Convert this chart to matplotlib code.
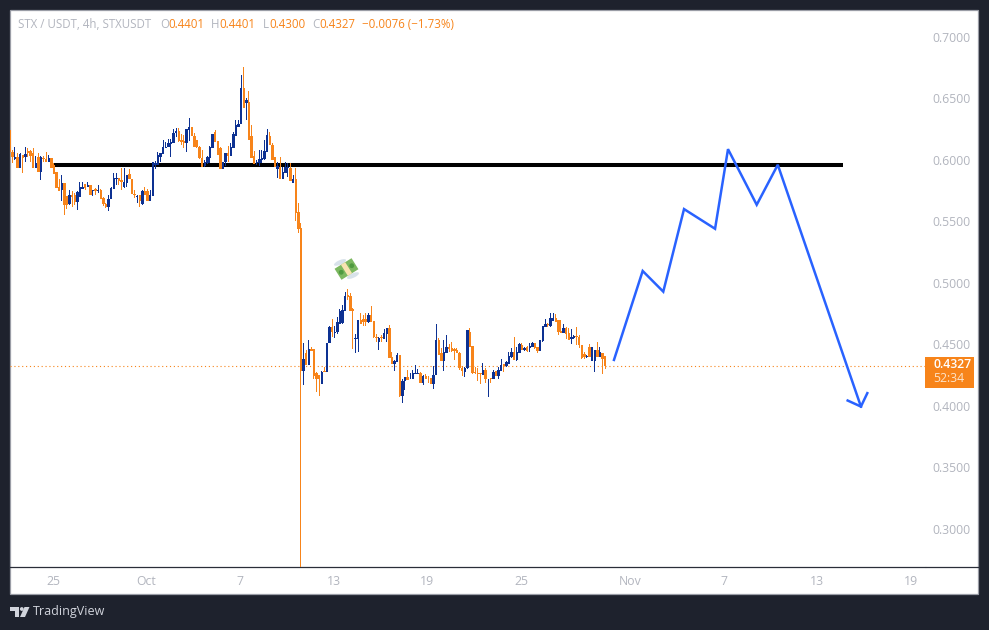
import numpy as np
import pandas as pd

import matplotlib as mpl
mpl.use('Agg')
import matplotlib.dates as mdates
import matplotlib.pyplot as plt
from matplotlib.patches import Circle, Ellipse, Polygon, Rectangle
from matplotlib.transforms import Affine2D

W, H, DPI = 989, 630, 100
plt.rcParams['font.family'] = ['Open Sans', 'DejaVu Sans']

BG = '#1e222d'
UP = '#0d3192'
DOWN = '#f7841a'
LABEL = '#b2b5be'
PATH_BLUE = '#2962ff'

opens = [
    .6241, .6065, .6005, .6024, .5935, .6038, .6024, .6073, .6073, .6051,
    .5935, .6024, .5902, .6016, .6005, .5984, .6011, .5956, .5902, .5775,
    .5753, .5815, .5707, .5639, .5713, .5713, .5658, .5699, .5759, .5799,
    .5775, .5794, .5748, .5759, .5748, .5753, .5685, .5639, .5618, .5677,
    .5761, .5843, .5854, .5835, .5775, .5807, .5881, .5840, .5721, .5699,
    .5713, .5639, .5745, .5745, .5666, .5707, .5956, .5956, .6025, .6044,
    .6093, .6101, .6128, .6139, .6220, .6234, .6161, .6155, .6133, .6242,
    .6269, .6193, .6161, .6101, .6012, .5949, .5971, .6017, .6098, .6228,
    .6153, .6093, .5925, .5979, .6052, .6031, .6098, .6193, .6269, .6288,
    .6581, .6459, .6472, .6193, .6031, .5971, .5971, .5998, .6003, .6066,
    .6193, .6120, .6020, .5925, .5944, .5844, .5890, .5930, .5936, .5814,
    .5844, .5575, .5442, .4282, .4426, .4331, .4461, .4458, .4263, .4250,
    .4176, .4282, .4271, .4507, .4637, .4594, .4602, .4669, .4675, .4772,
    .4900, .4892, .4783, .4542, .4542, .4697, .4702, .4702, .4683, .4737,
    .4688, .4561, .4520, .4556, .4542, .4583, .4629, .4393, .4339, .4358,
    .4412, .4079, .4198, .4236, .4214, .4222, .4258, .4258, .4263, .4182,
    .4241, .4222, .4228, .4174, .4250, .4534, .4426, .4366, .4426, .4480,
    .4466, .4458, .4453, .4426, .4304, .4277, .4304, .4602, .4485, .4274,
    .4268, .4268, .4250, .4290, .4214, .4228, .4222, .4282, .4241, .4282,
    .4339, .4323, .4339, .4393, .4439, .4371, .4431, .4493, .4453, .4474,
    .4466, .4480, .4507, .4474, .4447, .4529, .4637, .4664, .4648, .4688,
    .4710, .4697, .4610, .4594, .4629, .4588, .4539, .4553, .4561, .4556,
    .4493, .4420, .4398, .4474, .4366, .4366, .4453, .4398, .4426, .4401,
]
highs = [
    .6281, .6078, .6100, .6051, .6057, .6038, .6100, .6092, .6078, .6092,
    .6030, .6051, .6030, .6030, .6065, .6038, .6011, .5970, .5902, .5840,
    .5875, .5815, .5707, .5753, .5745, .5726, .5745, .5821, .5821, .5799,
    .5821, .5794, .5753, .5767, .5794, .5759, .5699, .5645, .5713, .5775,
    .5894, .5889, .5854, .5929, .5929, .5875, .5924, .5840, .5753, .5713,
    .5713, .5753, .5775, .5759, .5753, .5984, .5989, .6065, .6058, .6161,
    .6147, .6166, .6166, .6247, .6255, .6261, .6209, .6201, .6247, .6337,
    .6269, .6220, .6161, .6112, .6079, .5998, .6030, .6112, .6209, .6242,
    .6153, .6101, .5979, .6058, .6112, .6133, .6223, .6323, .6323, .6689,
    .6751, .6499, .6559, .6283, .6074, .5998, .6079, .6079, .6161, .6250,
    .6228, .6133, .6020, .5984, .6020, .5938, .5984, .5971, .5971, .5876,
    .5930, .5646, .5483, .4507, .4450, .4534, .4480, .4458, .4277, .4250,
    .4285, .4317, .4507, .4651, .4705, .4648, .4724, .4786, .4819, .4927,
    .4946, .4919, .4791, .4583, .4697, .4751, .4737, .4751, .4756, .4810,
    .4688, .4580, .4561, .4575, .4621, .4629, .4656, .4434, .4371, .4426,
    .4412, .4222, .4236, .4290, .4263, .4290, .4331, .4296, .4277, .4250,
    .4258, .4241, .4228, .4323, .4669, .4548, .4466, .4534, .4575, .4502,
    .4520, .4466, .4466, .4439, .4323, .4317, .4615, .4629, .4485, .4317,
    .4309, .4268, .4350, .4304, .4222, .4228, .4290, .4282, .4317, .4377,
    .4339, .4366, .4439, .4466, .4556, .4480, .4512, .4507, .4474, .4485,
    .4507, .4520, .4507, .4474, .4534, .4648, .4702, .4675, .4751, .4751,
    .4745, .4697, .4697, .4669, .4637, .4629, .4621, .4575, .4637, .4575,
    .4493, .4439, .4412, .4502, .4480, .4453, .4520, .4474, .4426, .4401,
]
lows = [
    .5902, .5970, .5997, .5935, .5929, .5889, .5984, .6024, .5984, .5935,
    .5935, .5902, .5835, .5984, .5984, .5984, .5929, .5883, .5767, .5748,
    .5666, .5550, .5599, .5631, .5618, .5631, .5591, .5699, .5759, .5753,
    .5775, .5713, .5704, .5713, .5726, .5677, .5623, .5604, .5583, .5677,
    .5761, .5794, .5794, .5753, .5767, .5775, .5840, .5718, .5691, .5650,
    .5618, .5631, .5713, .5666, .5666, .5707, .5921, .5956, .5984, .6044,
    .6093, .6101, .6025, .6139, .6188, .6147, .6120, .6098, .6066, .6153,
    .6196, .6101, .6093, .6006, .5944, .5944, .5965, .5971, .6098, .6147,
    .6039, .5925, .5925, .5949, .5984, .6031, .6098, .6193, .6269, .6288,
    .6423, .6323, .6161, .6017, .5965, .5957, .5949, .5971, .5998, .6066,
    .6120, .5998, .5938, .5849, .5841, .5844, .5890, .5863, .5827, .5814,
    .5502, .5402, .2500, .4168, .4331, .4331, .4445, .4222, .4114, .4081,
    .4176, .4271, .4271, .4507, .4561, .4548, .4583, .4669, .4669, .4772,
    .4859, .4772, .4461, .4426, .4439, .4664, .4648, .4648, .4675, .4683,
    .4548, .4515, .4453, .4520, .4542, .4520, .4385, .4339, .4285, .4358,
    .4068, .4019, .4128, .4209, .4214, .4222, .4258, .4258, .4182, .4168,
    .4214, .4182, .4174, .4133, .4250, .4412, .4366, .4285, .4426, .4439,
    .4439, .4371, .4426, .4290, .4241, .4236, .4296, .4474, .4258, .4258,
    .4201, .4174, .4250, .4182, .4073, .4187, .4214, .4241, .4222, .4282,
    .4277, .4317, .4339, .4385, .4371, .4366, .4431, .4453, .4447, .4439,
    .4439, .4480, .4458, .4431, .4447, .4520, .4637, .4637, .4637, .4688,
    .4678, .4575, .4594, .4594, .4539, .4534, .4499, .4539, .4493, .4466,
    .4377, .4377, .4390, .4393, .4366, .4277, .4393, .4393, .4258, .4300,
]
closes = [
    .6065, .6024, .6024, .5935, .6046, .6011, .6046, .6051, .6030, .5935,
    .5975, .5902, .6024, .6005, .5984, .6016, .5935, .5883, .5767, .5748,
    .5815, .5631, .5631, .5713, .5699, .5658, .5740, .5775, .5775, .5767,
    .5794, .5713, .5753, .5748, .5753, .5677, .5639, .5618, .5677, .5767,
    .5848, .5848, .5829, .5821, .5821, .5875, .5840, .5718, .5713, .5707,
    .5666, .5745, .5713, .5666, .5713, .5984, .5970, .6038, .6052, .6101,
    .6106, .6133, .6142, .6215, .6234, .6153, .6147, .6133, .6247, .6269,
    .6196, .6101, .6101, .6012, .5944, .5984, .6020, .6106, .6209, .6147,
    .6039, .5925, .5979, .6052, .6031, .6101, .6209, .6283, .6291, .6586,
    .6423, .6486, .6161, .6017, .5965, .5976, .6003, .6012, .6074, .6201,
    .6120, .5998, .5938, .5949, .5841, .5898, .5938, .5944, .5827, .5841,
    .5570, .5437, .4282, .4380, .4331, .4461, .4445, .4241, .4222, .4222,
    .4277, .4271, .4507, .4642, .4596, .4602, .4683, .4772, .4778, .4892,
    .4886, .4772, .4770, .4548, .4697, .4664, .4683, .4683, .4737, .4683,
    .4556, .4548, .4553, .4548, .4588, .4629, .4385, .4339, .4366, .4412,
    .4079, .4198, .4236, .4209, .4222, .4263, .4268, .4268, .4182, .4241,
    .4214, .4214, .4174, .4250, .4534, .4412, .4366, .4434, .4480, .4458,
    .4447, .4447, .4426, .4304, .4285, .4304, .4615, .4474, .4268, .4263,
    .4258, .4258, .4290, .4222, .4222, .4214, .4277, .4241, .4290, .4331,
    .4323, .4358, .4404, .4439, .4371, .4439, .4502, .4453, .4466, .4445,
    .4485, .4507, .4466, .4447, .4534, .4648, .4669, .4653, .4710, .4710,
    .4683, .4602, .4594, .4629, .4580, .4534, .4556, .4566, .4556, .4493,
    .4385, .4393, .4404, .4398, .4474, .4453, .4398, .4434, .4377, .4327,
]

# hand drawn forecast, days after 25 Sep and price
path_days = [35.96, 37.8, 39.12, 40.45, 42.44, 43.27, 45.11, 46.46, 51.79]
path_prices = [.4373, .5096, .4928, .5599, .5439, .6086, .5634, .5959, .3994]
head_days = [50.94, 51.79, 52.2]
head_prices = [.4043, .3994, .4103]

level_price = .5958
level_days = [0, 50.64]
last_price = .4327

price_ticks = [.30, .35, .40, .45, .50, .55, .60, .65, .70]
date_ticks = ['09-25', '10-01', '10-07', '10-13', '10-19', '10-25', '11-01', '11-07', '11-13', '11-19']
date_labels = ['25', 'Oct', '7', '13', '19', '25', 'Nov', '7', '13', '19']

base = mdates.date2num(pd.Timestamp('2025-09-25'))
px_per_day = 15.6
times = mdates.date2num(pd.date_range('2025-09-22 05:30', periods=len(opens), freq='4h'))

fig = plt.figure(figsize=(W / DPI, H / DPI), dpi=DPI, facecolor=BG)

# page furniture in pixel coordinates, one layer under the chart and one over it
under = fig.add_axes([0, 0, 1, 1], zorder=0)
over = fig.add_axes([0, 0, 1, 1], zorder=2)
for layer in (under, over):
    layer.set_xlim(0, W)
    layer.set_ylim(H, 0)
    layer.axis('off')
under.add_patch(Rectangle((10, 10), 968, 584, fc='white', ec='#9a9da6', lw=0.9))
under.plot([926, 978], [567, 567], color='#2a2e39', lw=0.9)

ax = fig.add_axes([10 / W, 1 - 567 / H, 915 / W, 557 / H], zorder=1)
ax.patch.set_alpha(0)
ax.set_xlim(base - 43 / px_per_day, base + 872 / px_per_day)
ax.set_ylim(.2690, .7217)
for side in ('top', 'left', 'right'):
    ax.spines[side].set_visible(False)
ax.spines['bottom'].set_color('#2a2e39')
ax.spines['bottom'].set_linewidth(0.9)

ax.yaxis.tick_right()
ax.set_yticks(price_ticks)
ax.set_yticklabels([f'{p:.4f}' for p in price_ticks], va='center_baseline')
ax.tick_params(axis='y', length=0, pad=5.5, labelsize=8.8, labelcolor=LABEL)
ax.set_xticks(mdates.date2num([pd.Timestamp(f'2025-{d}') for d in date_ticks]))
ax.set_xticklabels(date_labels)
ax.tick_params(axis='x', length=0, pad=5.5, labelsize=8.8, labelcolor=LABEL)

o, h, l, c = map(np.array, (opens, highs, lows, closes))
colors = np.where(c >= o, UP, DOWN)

ax.plot(base + np.array(level_days), [level_price] * 2, color='black', lw=2.9, solid_capstyle='butt', zorder=2)
ax.axhline(last_price, color=DOWN, lw=0.8, ls=(0, (1, 2.5)), zorder=1)
ax.bar(times, h - l, bottom=l, width=1.0 / px_per_day, color=colors, linewidth=0, zorder=3)
ax.bar(times, np.maximum(np.abs(c - o), .0008), bottom=np.minimum(o, c), width=2.3 / px_per_day,
       color=colors, linewidth=0, zorder=3)

ax.plot(base + np.array(path_days), path_prices, color=PATH_BLUE, lw=1.8, solid_joinstyle='miter', zorder=4)
ax.plot(base + np.array(head_days), head_prices, color=PATH_BLUE, lw=1.8, solid_joinstyle='miter', zorder=4)

# legend line on top of the chart
header = [
    (18, 'STX / USDT, 4h, STXUSDT', LABEL), (160, 'O', LABEL), (168, '0.4401', DOWN),
    (211, 'H', LABEL), (219, '0.4401', DOWN), (263, 'L', LABEL), (269, '0.4300', DOWN),
    (312, 'C', LABEL), (319, '0.4327', DOWN), (362, '\u22120.0076 (\u22121.73%)', DOWN),
]
for x, text, color in header:
    over.text(x, 24.5, text, color=color, fontsize=8.3, ha='left', va='center')

# price tag
over.add_patch(Rectangle((925, 356.5), 48.5, 31, fc=DOWN, ec='none'))
over.text(933, 365, '0.4327', color='white', fontsize=8.8, fontweight='semibold', ha='left', va='center')
over.text(933, 378.5, '52:34', color='#fde3c8', fontsize=8.8, ha='left', va='center')

# TradingView mark
logo = '#d1d4dc'
over.add_patch(Rectangle((10, 607), 9, 4, fc=logo, ec='none'))
over.add_patch(Rectangle((14.5, 607), 4.5, 10, fc=logo, ec='none'))
over.add_patch(Circle((21.8, 609), 1.9, fc=logo, ec='none'))
over.add_patch(Polygon([(24.5, 607), (29.5, 607), (25, 617), (20, 617)], fc=logo, ec='none'))
over.text(33, 612, 'TradingView', color=logo, fontsize=9.0, ha='left', va='center')

# money with wings marker above the swing high
emoji = Affine2D().rotate_deg(-32).translate(346.5, 269) + over.transData
over.add_patch(Ellipse((-2, -9), 13, 4.5, angle=8, fc='#d8e2ea', ec='none', transform=emoji))
over.add_patch(Ellipse((2, 9), 13, 4.5, angle=8, fc='#d8e2ea', ec='none', transform=emoji))
over.add_patch(Rectangle((-10, -6.5), 20, 13, fc='#7cb860', ec='none', transform=emoji))
over.add_patch(Rectangle((-2.5, -6.5), 5, 13, fc='#f8e3b0', ec='none', transform=emoji))
over.add_patch(Circle((-6.2, 0), 2.4, fc='#4f9a3f', ec='none', transform=emoji))
over.add_patch(Circle((6.2, 0), 2.4, fc='#4f9a3f', ec='none', transform=emoji))

fig.savefig('out.png', dpi=DPI, facecolor=BG)
